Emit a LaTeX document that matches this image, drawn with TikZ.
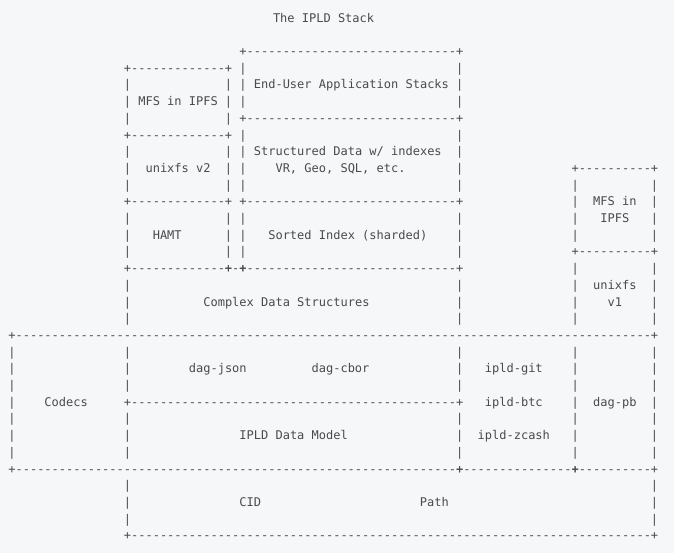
\documentclass[tikz,border=0pt]{standalone}
\usepackage{fontspec}
\setmonofont{DejaVu Sans Mono}
\definecolor{bgc}{HTML}{F6F7F9}
\definecolor{txc}{HTML}{4A4A4A}
\tikzset{
  g/.style={anchor=base,inner sep=0pt,outer sep=0pt,font=\ttfamily\fontsize{9}{9}\selectfont,text=txc},
  t/.style={anchor=base west,inner sep=0pt,outer sep=0pt,font=\ttfamily\fontsize{9}{9}\selectfont,text=txc},
}
\newcommand\gl[3]{\node[g] (g#1-#2) at ({12+7.22*#1},{-55.5-16.7*#2}) {#3};}
\newcommand\tx[4]{\node[t] (#1) at ({8.39+7.22*#2},{-55.5-16.7*#3}) {#4};}
\newcommand\hrl[3]{\pgfmathtruncatemacro\ha{#2+1}\pgfmathtruncatemacro\hb{#3-1}%
  \foreach \c in {\ha,...,\hb}{\gl{\c}{#1}{-}}\gl{#2}{#1}{+}\gl{#3}{#1}{+}}
\newcommand\vrl[3]{\foreach \r in {#2,...,#3}{\gl{#1}{\r}{|}}}
\begin{document}
\begin{tikzpicture}[x=0.75pt,y=0.75pt]
\fill[bgc] (0,0) rectangle (674,-553);
\useasboundingbox (0,0) rectangle (674,-553);
\node[t] (title) at (273,-22) {The IPLD Stack};
% horizontal rules
\hrl{0}{32}{62}
\hrl{1}{16}{30}
\hrl{4}{32}{62}
\hrl{5}{16}{30}
\hrl{7}{78}{89}
\hrl{9}{16}{30}
\hrl{9}{32}{62}
\hrl{12}{78}{89}
\hrl{13}{16}{30}
\hrl{13}{30}{32}
\hrl{13}{32}{62}
\hrl{17}{0}{89}
\hrl{21}{16}{62}
\hrl{25}{0}{62}
\hrl{25}{62}{78}
\hrl{25}{78}{89}
\hrl{29}{16}{89}
% vertical rules
\vrl{16}{2}{4}\vrl{16}{6}{8}\vrl{16}{10}{12}\vrl{16}{14}{16}\vrl{16}{18}{20}\vrl{16}{22}{24}\vrl{16}{26}{28}
\vrl{30}{2}{4}\vrl{30}{6}{8}\vrl{30}{10}{12}
\vrl{32}{1}{3}\vrl{32}{5}{8}\vrl{32}{10}{12}
\vrl{62}{1}{3}\vrl{62}{5}{8}\vrl{62}{10}{12}\vrl{62}{14}{16}\vrl{62}{18}{20}\vrl{62}{22}{24}
\vrl{0}{18}{24}
\vrl{78}{8}{11}\vrl{78}{13}{16}\vrl{78}{18}{24}
\vrl{89}{8}{11}\vrl{89}{13}{16}\vrl{89}{18}{24}\vrl{89}{26}{28}
% texts
\tx{eu}{34}{2}{End-User Application Stacks}
\tx{mfs2}{18}{3}{MFS in IPFS}
\tx{sd}{34}{6}{Structured Data w/ indexes}
\tx{ufs2}{19}{7}{unixfs v2}
\tx{vr}{37}{7}{VR, Geo, SQL, etc.}
\tx{mfs1a}{81}{9}{MFS in}
\tx{mfs1b}{82}{10}{IPFS}
\tx{hamt}{20}{11}{HAMT}
\tx{si}{36}{11}{Sorted Index (sharded)}
\tx{ufs1a}{81}{14}{unixfs}
\tx{cds}{27}{15}{Complex Data Structures}
\tx{ufs1b}{83}{15}{v1}
\tx{dj}{25}{19}{dag-json}
\tx{dc}{42}{19}{dag-cbor}
\tx{ig}{66}{19}{ipld-git}
\tx{cod}{5}{21}{Codecs}
\tx{ib}{66}{21}{ipld-btc}
\tx{dp}{81}{21}{dag-pb}
\tx{dm}{32}{23}{IPLD Data Model}
\tx{iz}{65}{23}{ipld-zcash}
\tx{cid}{32}{27}{CID}
\tx{path}{57}{27}{Path}
\end{tikzpicture}
\end{document}
